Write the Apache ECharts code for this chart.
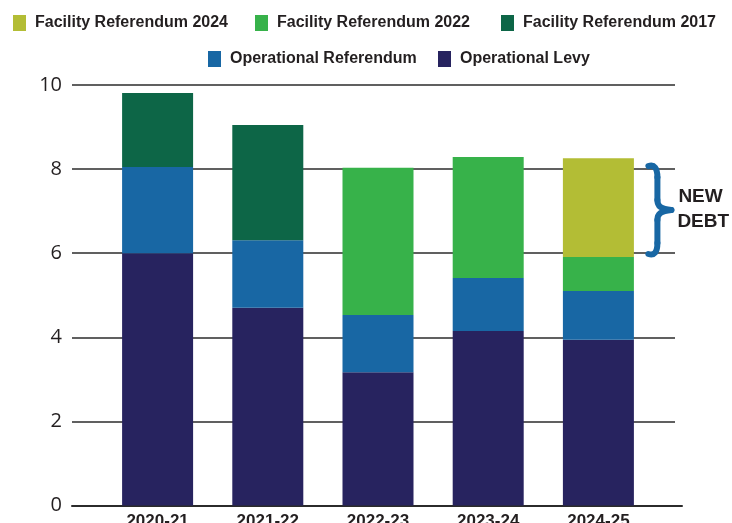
<!DOCTYPE html>
<html>
<head>
<meta charset="utf-8">
<script src="https://cdn.jsdelivr.net/npm/echarts@6/dist/echarts.min.js"></script>
<style>
html,body{margin:0;padding:0;background:#fff;}
#chart{width:732px;height:523px;}
</style>
</head>
<body>
<div id="chart"></div>
<script>
const categories = ['2020-21', '2021-22', '2022-23', '2023-24', '2024-25'];
const operationalLevy = [6.00, 4.70, 3.17, 4.15, 3.94];
const operationalReferendum = [2.05, 1.61, 1.36, 1.26, 1.16];
const facilityReferendum2017 = [1.76, 2.74, null, null, null];
const facilityReferendum2022 = [null, null, 3.50, 2.88, 0.81];
const facilityReferendum2024 = [null, null, null, null, 2.35];
const yMin = 0, yMax = 10, yInterval = 2;
const annotationLines = ['NEW', 'DEBT'];

const C = {
  levy: '#27235f',
  opRef: '#1867a4',
  f2017: '#0d6647',
  f2022: '#37b24a',
  f2024: '#b3bd35',
  text: '#231f20',
  grid: '#2b2b2b'
};

const chart = echarts.init(document.getElementById('chart'), null, {renderer: 'canvas'});

function legendItem(name, left, top) {
  return {
    data: [name], left: left, top: top, padding: 0,
    itemWidth: 13, itemHeight: 16, icon: 'rect',
    selectedMode: false,
    textStyle: {fontFamily: 'Liberation Sans', fontWeight: 'bold', fontSize: 16, color: C.text, padding: [0, 0, 0, 4]}
  };
}

function barSeries(name, data, color) {
  return {
    name: name, type: 'bar', stack: 'total', data: data,
    xAxisIndex: 1, yAxisIndex: 1, barWidth: 71,
    itemStyle: {color: color}, emphasis: {disabled: true}
  };
}

const gridBase = {top: 85, bottom: 17.5, outerBoundsMode: 'none', containLabel: false};

const option = {
  animation: false,
  backgroundColor: '#fff',
  legend: [
    legendItem('Facility Referendum 2024', 13, 15),
    legendItem('Facility Referendum 2022', 255, 15),
    legendItem('Facility Referendum 2017', 501, 15),
    legendItem('Operational Referendum', 208, 51),
    legendItem('Operational Levy', 438, 51)
  ],
  grid: [
    Object.assign({left: 72, right: 57}, gridBase),
    Object.assign({left: 102.5, right: 78.5}, gridBase),
    Object.assign({left: 72, right: 50}, gridBase)
  ],
  xAxis: [
    {gridIndex: 0, type: 'category', data: categories, show: false},
    {gridIndex: 1, type: 'category', data: categories,
      axisLine: {show: false}, axisTick: {show: false}, splitLine: {show: false},
      axisLabel: {margin: 7, fontFamily: 'Liberation Sans', fontWeight: 'bold', fontSize: 17, color: C.text}},
    {gridIndex: 2, type: 'category', data: categories,
      axisLine: {show: true, lineStyle: {color: C.grid, width: 2}}, axisTick: {show: false},
      axisLabel: {show: false}, splitLine: {show: false}}
  ],
  yAxis: [
    {gridIndex: 0, type: 'value', min: yMin, max: yMax, interval: yInterval,
      axisLine: {show: false}, axisTick: {show: false},
      axisLabel: {margin: 10, fontFamily: 'Open Sans', fontSize: 20, color: C.text},
      splitLine: {show: true, lineStyle: {color: C.grid, width: 1.6}}},
    {gridIndex: 1, type: 'value', min: yMin, max: yMax, interval: yInterval, show: false, splitLine: {show: false}},
    {gridIndex: 2, type: 'value', min: yMin, max: yMax, interval: yInterval, show: false, splitLine: {show: false}}
  ],
  series: [
    barSeries('Operational Levy', operationalLevy, C.levy),
    barSeries('Operational Referendum', operationalReferendum, C.opRef),
    barSeries('Facility Referendum 2017', facilityReferendum2017, C.f2017),
    barSeries('Facility Referendum 2022', facilityReferendum2022, C.f2022),
    barSeries('Facility Referendum 2024', facilityReferendum2024, C.f2024)
  ]
};
chart.setOption(option);

// Brace annotation spanning the 2024 facility referendum segment of the last bar
const lastIdx = categories.length - 1;
const baseBelow = operationalLevy[lastIdx] + operationalReferendum[lastIdx] + (facilityReferendum2022[lastIdx] || 0);
const topVal = baseBelow + facilityReferendum2024[lastIdx];
const pTop = chart.convertToPixel({gridIndex: 1}, [lastIdx, topVal]);
const pBot = chart.convertToPixel({gridIndex: 1}, [lastIdx, baseBelow]);
const bx = pTop[0] + 48;
const by0 = pTop[1] + 5;
const by1 = pBot[1];
const sy = (by1 - by0) / 94;
const mid = (by0 + by1) / 2;
function P(x, y) { return [bx + x, by0 + y * sy]; }
const braceStyle = {fill: null, stroke: C.opRef, lineWidth: 6, lineCap: 'round', lineJoin: 'round'};
function curve(a, b, c, d) {
  const p1 = P(a[0], a[1]), c1 = P(b[0], b[1]), c2 = P(c[0], c[1]), p2 = P(d[0], d[1]);
  return {type: 'bezierCurve', silent: true,
    shape: {x1: p1[0], y1: p1[1], cpx1: c1[0], cpy1: c1[1], cpx2: c2[0], cpy2: c2[1], x2: p2[0], y2: p2[1]},
    style: braceStyle};
}
function seg(a, b) {
  const p1 = P(a[0], a[1]), p2 = P(b[0], b[1]);
  return {type: 'line', silent: true, shape: {x1: p1[0], y1: p1[1], x2: p2[0], y2: p2[1]}, style: braceStyle};
}

chart.setOption({
  graphic: [
    curve([2, 3], [8, 1], [11, 5], [11, 14]),
    seg([11, 14], [11, 37]),
    curve([11, 37], [11, 43], [14, 46], [25, 47]),
    curve([25, 47], [14, 48], [11, 51], [11, 57]),
    seg([11, 57], [11, 80]),
    curve([11, 80], [11, 89], [8, 93], [2, 91]),
    {
      type: 'text', silent: true, x: bx + 32, y: mid - 13,
      style: {text: annotationLines[0], font: 'bold 19px "Liberation Sans"', fill: C.text, verticalAlign: 'middle', align: 'left'}
    },
    {
      type: 'text', silent: true, x: bx + 31, y: mid + 12,
      style: {text: annotationLines[1], font: 'bold 19px "Liberation Sans"', fill: C.text, verticalAlign: 'middle', align: 'left'}
    }
  ]
});
</script>
</body>
</html>
